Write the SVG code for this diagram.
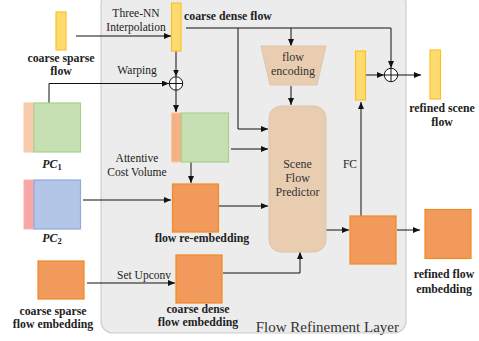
<svg xmlns="http://www.w3.org/2000/svg" width="479" height="341" viewBox="0 0 479 341">
  <style>
    .lbl { font-family: "Liberation Serif", "Times New Roman", serif; font-size: 11.5px; fill: #222; }
    .bold { font-family: "Liberation Serif", "Times New Roman", serif; font-size: 11.8px; font-weight: bold; fill: #222; }
    .big { font-family: "Liberation Serif", "Times New Roman", serif; font-size: 12px; fill: #333; }
    .c { text-anchor: middle; }
    .yellow { fill: #fedb6e; stroke: #f8c12c; stroke-width: 1.2; }
    .orange { fill: #f19a5c; stroke: #f08a22; stroke-width: 1.2; }
    .strip { fill: #f4b183; stroke: #f8c9a8; stroke-width: 1; }
    .green { fill: #c6e0b4; stroke: #a9d18e; stroke-width: 1.2; }
    .blue { fill: #b4c6e7; stroke: #8faadc; stroke-width: 1.2; }
    .tan { fill: #e9cdb0; stroke: #dcc6ae; stroke-width: 1; }
    .wire { fill: none; stroke: #111; stroke-width: 1; }
    .arr { fill: none; stroke: #111; stroke-width: 1; marker-end: url(#head); }
  </style>
  <defs>
    <marker id="head" markerUnits="userSpaceOnUse" markerWidth="7" markerHeight="6" refX="7" refY="3" orient="auto">
      <path d="M0,0 L7,3 L0,6 z" fill="#111"/>
    </marker>
  </defs>

  <!-- refinement layer panel -->
  <g id="panel">
    <rect x="101" y="-8" width="305" height="341" rx="12" fill="#ececec" stroke="#cdcdcd" stroke-width="1.2"/>
    <text x="399" y="332" class="lbl" style="font-size:15px;text-anchor:end;fill:#333">Flow Refinement Layer</text>
  </g>

  <!-- connectors -->
  <g id="connectors">
    <path class="arr" d="M76,36 H171"/>
    <path class="arr" d="M176,51 V76.5"/>
    <path class="arr" d="M49,103 V83.5 H169"/>
    <path class="arr" d="M176,90 V112"/>
    <path class="arr" d="M186,28 H391 V68"/>
    <path class="arr" d="M238,28 V129 H268"/>
    <path class="arr" d="M291,28 V46"/>
    <path class="arr" d="M291,86 V105"/>
    <path class="arr" d="M231,149 H268"/>
    <path class="arr" d="M191,162 V183"/>
    <path class="arr" d="M83,200 H171"/>
    <path class="arr" d="M219,206 H268"/>
    <path class="arr" d="M87,283 H175"/>
    <path class="arr" d="M223,273 H300 V252"/>
    <path class="arr" d="M326,230 H349"/>
    <path class="arr" d="M361,216 V102"/>
    <path class="arr" d="M366,75 H384"/>
    <path class="arr" d="M398,75 H421"/>
    <path class="arr" d="M397,230 H420"/>
    <text x="136" y="17" class="lbl c">Three-NN</text>
    <text x="136" y="31" class="lbl c">Interpolation</text>
    <text x="137" y="74" class="lbl c">Warping</text>
    <text x="144" y="279" class="lbl c">Set Upconv</text>
    <text x="357" y="168" class="lbl" style="text-anchor:end">FC</text>
  </g>

  <!-- element-wise sums -->
  <g id="sum-warp">
    <circle cx="176" cy="83.5" r="6.7" fill="#fff" stroke="#111" stroke-width="1"/>
    <path class="wire" d="M169.3,83.5 H182.7 M176,76.8 V90.2"/>
  </g>
  <g id="sum-residual">
    <circle cx="391" cy="75" r="6.7" fill="#fff" stroke="#111" stroke-width="1"/>
    <path class="wire" d="M384.3,75 H397.7 M391,68.3 V81.7"/>
  </g>

  <g id="coarse-sparse-flow">
    <rect x="56" y="12" width="10" height="38" class="yellow"/>
    <text x="61" y="62" class="bold c">coarse sparse</text>
    <text x="61" y="75" class="bold c">flow</text>
  </g>

  <g id="coarse-dense-flow">
    <rect x="171.5" y="3" width="9.5" height="48" class="yellow"/>
    <text x="184" y="20" class="bold">coarse dense flow</text>
  </g>

  <g id="pc1">
    <rect x="24" y="103" width="10" height="49" class="strip" style="fill:#f8cbad"/>
    <rect x="34" y="103" width="46.5" height="49" class="green"/>
    <text x="52" y="168" class="bold c" style="font-style:italic">PC<tspan font-size="8.5" font-style="normal" dy="2">1</tspan></text>
  </g>

  <g id="pc2">
    <rect x="24" y="180" width="10" height="49" fill="#f8a6a6" stroke="#f8b4b4" stroke-width="1"/>
    <rect x="34" y="180" width="46.5" height="49" class="blue"/>
    <text x="52" y="242" class="bold c" style="font-style:italic">PC<tspan font-size="8.5" font-style="normal" dy="2">2</tspan></text>
  </g>

  <g id="cost-volume">
    <rect x="171.5" y="113" width="10" height="49" class="strip"/>
    <rect x="181.5" y="113" width="47" height="49" class="green"/>
    <text x="137" y="162" class="lbl c">Attentive</text>
    <text x="137" y="176" class="lbl c">Cost Volume</text>
  </g>

  <g id="flow-re-embedding">
    <rect x="172.5" y="184" width="46" height="48" class="orange"/>
    <text x="202" y="242" class="bold c">flow re-embedding</text>
  </g>

  <g id="coarse-sparse-embedding">
    <rect x="38" y="261" width="46" height="38" class="orange"/>
    <text x="53" y="315" class="bold c">coarse sparse</text>
    <text x="53" y="328" class="bold c">flow embedding</text>
  </g>

  <g id="coarse-dense-embedding">
    <rect x="176" y="255" width="46" height="48" class="orange"/>
    <text x="198" y="313" class="bold c">coarse dense</text>
    <text x="198" y="326" class="bold c">flow embedding</text>
  </g>

  <g id="flow-encoding">
    <path d="M261,46 H326 L317,85 H270 Z" class="tan"/>
    <text x="293" y="61" class="big c">flow</text>
    <text x="293" y="75" class="big c">encoding</text>
  </g>

  <g id="scene-flow-predictor">
    <rect x="269" y="106" width="57" height="146" rx="12" class="tan"/>
    <text x="297.5" y="168" class="big c">Scene</text>
    <text x="297.5" y="182" class="big c">Flow</text>
    <text x="297.5" y="196" class="big c">Predictor</text>
  </g>

  <g id="predictor-features">
    <rect x="350" y="216" width="46" height="48" class="orange"/>
  </g>

  <g id="flow-residual">
    <rect x="355.5" y="51" width="10" height="49" class="yellow"/>
  </g>

  <g id="refined-scene-flow">
    <rect x="430" y="50" width="10.5" height="49" class="yellow"/>
    <text x="442" y="112" class="bold c">refined scene</text>
    <text x="442" y="126" class="bold c">flow</text>
  </g>

  <g id="refined-flow-embedding">
    <rect x="425" y="209.5" width="46" height="49" class="orange"/>
    <text x="444" y="278" class="bold c">refined flow</text>
    <text x="444" y="293" class="bold c">embedding</text>
  </g>
</svg>
